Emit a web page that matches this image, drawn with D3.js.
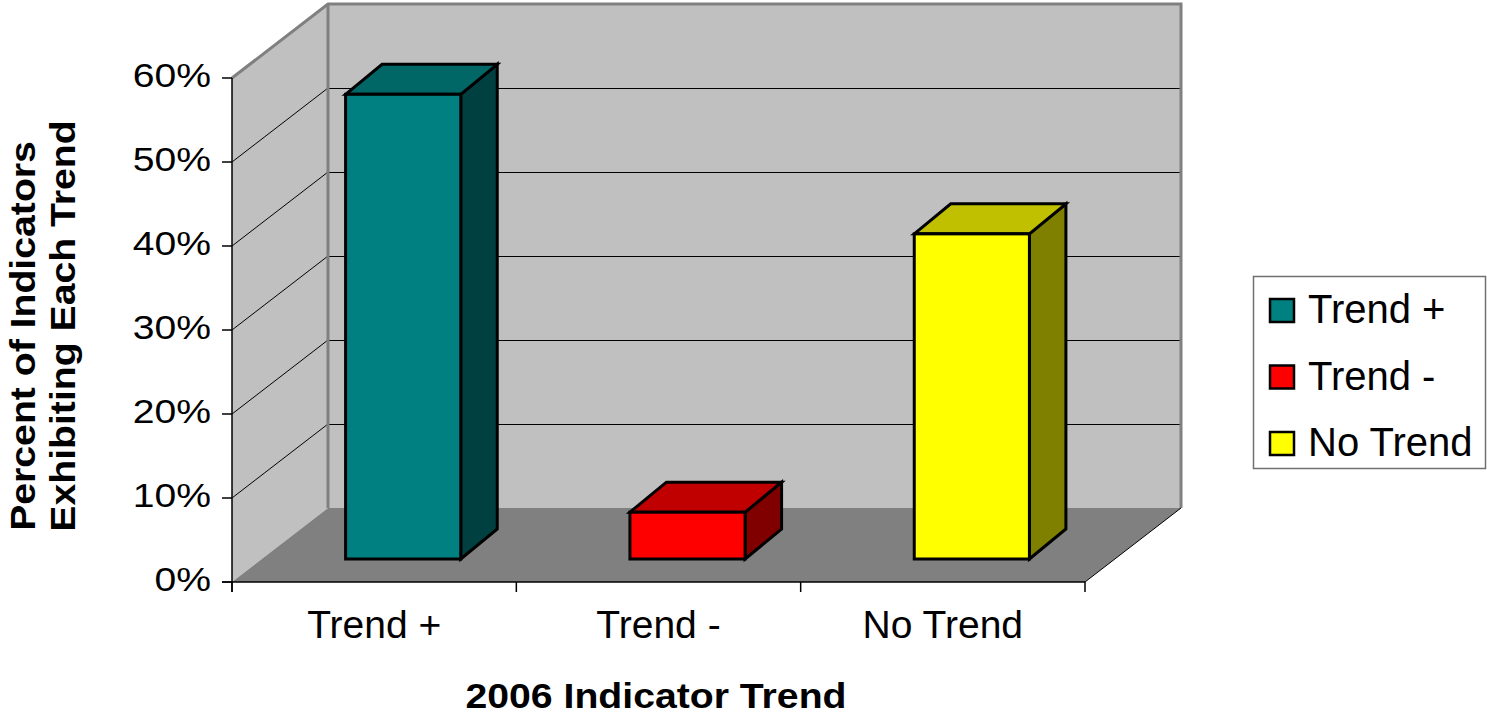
<!DOCTYPE html>
<html>
<head>
<meta charset="utf-8">
<script src="https://cdn.jsdelivr.net/npm/d3@7"></script>
<style>
  html, body { margin: 0; padding: 0; background: #fff; }
  svg { display: block; font-family: "Liberation Sans", Arial, sans-serif; }
</style>
</head>
<body>
<svg id="chart" width="1487" height="718"></svg>
<script>
// ---- data ----
const categories = ["Trend +", "Trend -", "No Trend"];
const values = [55.6, 5.6, 38.9];
const frontColors = ["#008080", "#FF0000", "#FFFF00"];
const topColors = ["#006666", "#C00000", "#C0C000"];
const sideColors = ["#004040", "#800000", "#808000"];
const yTicks = [0, 10, 20, 30, 40, 50, 60];
const yTickLabels = ["0%", "10%", "20%", "30%", "40%", "50%", "60%"];
const xTitle = "2006 Indicator Trend";
const yTitleLines = ["Percent of Indicators", "Exhibiting Each Trend"];

// ---- layout ----
const svg = d3.select("#chart");
const X0 = 232, X1 = 1085, Y0 = 582, Y60 = 78;
const DX = 96, DY = -74;                // full depth of the 3D box
const FDX = 29, FDY = -23;              // bar front offset into the box
const BDX = 36.5, BDY = -30;            // bar depth
const x = d3.scaleBand().domain(categories).range([X0, X1]);
const y = d3.scaleLinear().domain([0, 60]).range([Y0, Y60]);
const yBar = d3.scaleLinear().domain([0, 60]).range([Y0 + FDY, Y0 + FDY - (Y0 - Y60) * 0.995]);
const poly = pts => pts.map(p => p.join(",")).join(" ");

// back wall
svg.append("rect")
  .attr("x", X0 + DX).attr("y", y(60) + DY)
  .attr("width", X1 - X0).attr("height", y(0) - y(60))
  .attr("fill", "#C0C0C0");
// left wall
svg.append("polygon")
  .attr("points", poly([[X0, y(60)], [X0 + DX, y(60) + DY], [X0 + DX, y(0) + DY], [X0, y(0)]]))
  .attr("fill", "#C0C0C0");
// floor
svg.append("polygon")
  .attr("points", poly([[X0, y(0)], [X1, y(0)], [X1 + DX, y(0) + DY], [X0 + DX, y(0) + DY]]))
  .attr("fill", "#808080");

// gridlines
const grid = yTicks.filter(t => t > 0 && t < 60);
svg.append("g").selectAll("line.bg").data(grid).join("line")
  .attr("x1", X0 + DX).attr("x2", X1 + DX)
  .attr("y1", d => Math.round(y(d) + DY) + 0.5).attr("y2", d => Math.round(y(d) + DY) + 0.5)
  .attr("stroke", "#000").attr("stroke-width", 1);
svg.append("g").selectAll("line.lg").data(grid).join("line")
  .attr("x1", X0).attr("x2", X0 + DX)
  .attr("y1", d => y(d)).attr("y2", d => y(d) + DY)
  .attr("stroke", "#000").attr("stroke-width", 1);

// wall borders (gray)
svg.append("polyline")
  .attr("points", poly([[X0, y(60)], [X0 + DX, y(60) + DY], [X1 + DX, y(60) + DY], [X1 + DX, y(0) + DY]]))
  .attr("fill", "none").attr("stroke", "#808080").attr("stroke-width", 3);
svg.append("line")
  .attr("x1", X0 + DX).attr("x2", X0 + DX)
  .attr("y1", y(60) + DY).attr("y2", y(0) + DY)
  .attr("stroke", "#808080").attr("stroke-width", 3);
// floor right edge
svg.append("line")
  .attr("x1", X1).attr("y1", y(0)).attr("x2", X1 + DX).attr("y2", y(0) + DY)
  .attr("stroke", "#000").attr("stroke-width", 1);

// bars
const bw = x.bandwidth() * 0.405;
const bars = svg.append("g");
categories.forEach((c, i) => {
  const fx0 = x(c) + (x.bandwidth() - bw) / 2 + FDX;
  const fx1 = fx0 + bw;
  const ft = yBar(values[i]), fb = yBar(0);
  const g = bars.append("g")
    .attr("stroke", "#000").attr("stroke-width", 3).attr("stroke-linejoin", "miter");
  g.append("polygon")
    .attr("points", poly([[fx1, ft], [fx1 + BDX, ft + BDY], [fx1 + BDX, fb + BDY], [fx1, fb]]))
    .attr("fill", sideColors[i]);
  g.append("polygon")
    .attr("points", poly([[fx0, ft], [fx0 + BDX, ft + BDY], [fx1 + BDX, ft + BDY], [fx1, ft]]))
    .attr("fill", topColors[i]);
  g.append("rect")
    .attr("x", fx0).attr("y", ft).attr("width", bw).attr("height", fb - ft)
    .attr("fill", frontColors[i]);
});

// axes
svg.append("line").attr("x1", X0).attr("x2", X0).attr("y1", y(60)).attr("y2", y(0) + 10)
  .attr("stroke", "#000").attr("stroke-width", 1.5);
svg.append("line").attr("x1", X0 - 10).attr("x2", X1).attr("y1", y(0)).attr("y2", y(0))
  .attr("stroke", "#000").attr("stroke-width", 1.5);
svg.append("g").selectAll("line").data(yTicks).join("line")
  .attr("x1", X0 - 10).attr("x2", X0).attr("y1", d => y(d)).attr("y2", d => y(d))
  .attr("stroke", "#000").attr("stroke-width", 1.5);
const xTickPos = categories.map(c => x(c)).concat([X1]);
svg.append("g").selectAll("line").data(xTickPos).join("line")
  .attr("x1", d => d).attr("x2", d => d).attr("y1", y(0)).attr("y2", y(0) + 10)
  .attr("stroke", "#000").attr("stroke-width", 1.5);

// y tick labels
svg.append("g").selectAll("text").data(yTicks).join("text")
  .attr("transform", d => `translate(211,${y(d) + 9}) scale(1.15,1)`)
  .attr("text-anchor", "end").attr("font-size", 34).attr("fill", "#000")
  .text((d, i) => yTickLabels[i]);

// x tick labels
svg.append("g").selectAll("text").data(categories).join("text")
  .attr("x", d => x(d) + x.bandwidth() / 2).attr("y", 638)
  .attr("text-anchor", "middle").attr("font-size", 39).attr("fill", "#000")
  .text(d => d);

// axis titles
svg.append("text")
  .attr("transform", "translate(656,708) scale(1.12,1)")
  .attr("text-anchor", "middle").attr("font-size", 35).attr("font-weight", "bold")
  .text(xTitle);
svg.append("text")
  .attr("transform", "translate(35,336) rotate(-90) scale(1.12,1)")
  .attr("text-anchor", "middle").attr("font-size", 35).attr("font-weight", "bold")
  .text(yTitleLines[0]);
svg.append("text")
  .attr("transform", "translate(75,326) rotate(-90) scale(1.12,1)")
  .attr("text-anchor", "middle").attr("font-size", 35).attr("font-weight", "bold")
  .text(yTitleLines[1]);

// legend
const lg = svg.append("g");
lg.append("rect").attr("x", 1253.5).attr("y", 276.5).attr("width", 232).attr("height", 192)
  .attr("fill", "#fff").attr("stroke", "#707070").attr("stroke-width", 1.5);
categories.forEach((c, i) => {
  const top = 299 + i * 66.5;
  lg.append("rect").attr("x", 1270).attr("y", top).attr("width", 24).attr("height", 23)
    .attr("fill", frontColors[i]).attr("stroke", "#000").attr("stroke-width", 2.5);
  lg.append("text").attr("x", 1308).attr("y", top + 24)
    .attr("font-size", 40).attr("fill", "#000").text(c);
});
</script>
</body>
</html>
